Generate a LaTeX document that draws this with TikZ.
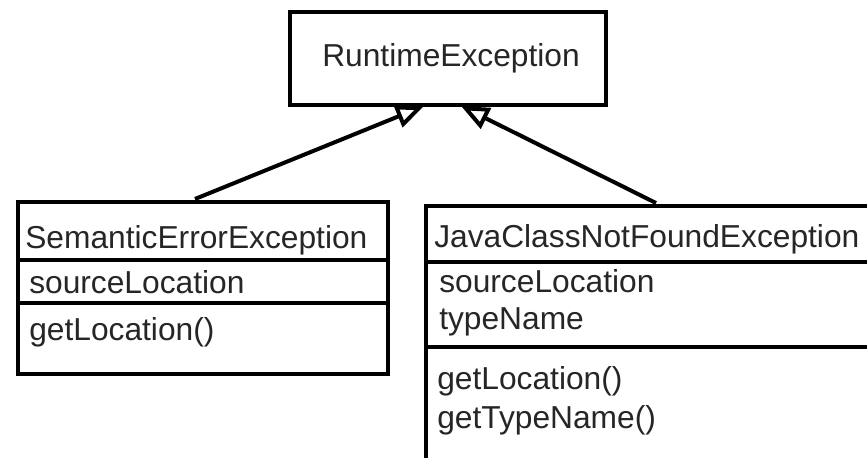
\documentclass[tikz,border=0pt]{standalone}
\usepackage{fontspec}
\setmainfont{Liberation Sans}
\usetikzlibrary{arrows.meta}
\begin{document}
\begin{tikzpicture}[x=0.75pt,y=-0.75pt,
  box/.style={draw, line width=3pt, inner sep=0pt, anchor=north west},
  lbl/.style={anchor=base west, inner sep=0pt, font=\fontsize{23.8}{27}\selectfont, text=black!85},
  divider/.style={line width=3pt},
  inherit/.style={line width=3pt, -{Triangle[open, length=21pt, width=17pt, line width=3pt]}}]
\useasboundingbox (0,0) rectangle (867,457);
\clip (0,0) rectangle (867,457);
\fill[white] (0,0) rectangle (867,457);
% boxes
\node[box, minimum width=237pt, minimum height=69.75pt] (rt) at (288,10) {};
\node[box, minimum width=277.5pt, minimum height=129pt] (sem) at (16,200) {};
\node[box, minimum width=357pt, minimum height=207pt] (jcn) at (424,204) {};
% dividers
\draw[divider] (sem.west |- 0,260) -- (sem.east |- 0,260);
\draw[divider] (sem.west |- 0,303) -- (sem.east |- 0,303);
\draw[divider] (jcn.west |- 0,262) -- (jcn.east |- 0,262);
\draw[divider] (jcn.west |- 0,347) -- (jcn.east |- 0,347);
% texts
\node[lbl] (rtname) at (322,66) {RuntimeException};
\node[lbl] (semname) at (25,248) {SemanticErrorException};
\node[lbl] (semattr) at (29,293) {sourceLocation};
\node[lbl] (semop) at (29,340) {getLocation()};
\node[lbl] (jcnname) at (434,247) {JavaClassNotFoundException};
\node[lbl] (jcnattr1) at (439,292) {sourceLocation};
\node[lbl] (jcnattr2) at (439,329) {typeName};
\node[lbl] (jcnop1) at (437,389) {getLocation()};
\node[lbl] (jcnop2) at (437,428) {getTypeName()};
% connectors
\coordinate (s1) at (195,199);
\coordinate (t1) at (424,106);
\coordinate (s2) at (656,203);
\coordinate (t2) at (461,106);
\draw[inherit] (s1) -- (t1);
\draw[inherit] (s2) -- (t2);
\end{tikzpicture}
\end{document}
